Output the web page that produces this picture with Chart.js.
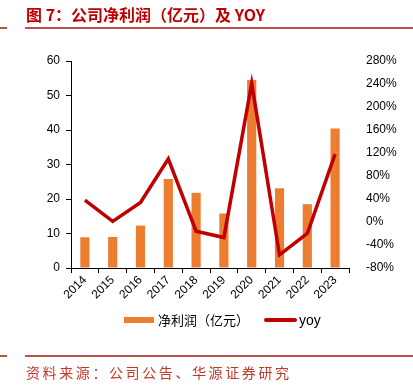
<!DOCTYPE html>
<html><head><meta charset="utf-8">
<script src="https://cdn.jsdelivr.net/npm/chart.js@4/dist/chart.umd.min.js"></script>
<style>
html,body{margin:0;padding:0;background:#fff;width:413px;height:386px;overflow:hidden;position:relative;font-family:"Liberation Sans",Arial,sans-serif;}
#c{position:absolute;left:0;top:0;}
.title{position:absolute;left:26px;top:3px;font:bold 16px "Noto Sans CJK SC",sans-serif;color:#C00000;white-space:nowrap;line-height:22px;}
.rule{position:absolute;height:2px;background:#C0504D;}
.foot{position:absolute;left:26px;top:362px;font:14px "Noto Sans CJK SC",serif;color:#C0392B;letter-spacing:2.6px;white-space:nowrap;line-height:20px;}
.legend{position:absolute;top:311px;font:13px "Noto Sans CJK SC","Liberation Sans",sans-serif;color:#000;white-space:nowrap;line-height:18px;}
.sw{position:absolute;}
</style></head>
<body>
<canvas id="c" width="413" height="386"></canvas>
<div class="title">图 7：公司净利润（亿元）及 YOY</div>
<div class="rule" style="left:0;width:7px;top:27px"></div>
<div class="rule" style="left:25px;width:388px;top:27px"></div>
<div class="rule" style="left:0;width:7px;top:355px"></div>
<div class="rule" style="left:25px;width:388px;top:355px"></div>
<div class="foot">资料来源：公司公告、华源证券研究</div>
<div class="sw" style="left:124px;top:317px;width:30px;height:6px;background:#ED7D31"></div>
<div class="legend" style="left:158px">净利润（亿元）</div>
<div class="sw" style="left:264px;top:318px;width:33px;height:4px;background:#C00000;border-radius:2px"></div>
<div class="legend" style="left:299px;font-family:'Liberation Sans',Arial,sans-serif;font-size:14px">yoy</div>
<script>
const categories = ["2014","2015","2016","2017","2018","2019","2020","2021","2022","2023"];
const netProfit = [8.9, 9.0, 12.3, 25.8, 21.8, 15.8, 54.5, 23.1, 18.5, 40.4];
const yoy = [38, 1, 34, 110, -16, -27, 241, -57, -20, 118];
const leftTicks = {min:0, max:60, step:10};
const rightTicks = {min:-80, max:280, step:40};

new Chart(document.getElementById('c'), {
  data: {
    labels: categories,
    datasets: [
      {type:'line', label:'yoy', data:yoy, yAxisID:'y1', borderColor:'#C00000', backgroundColor:'#C00000', borderWidth:3.5, pointRadius:0, tension:0, order:0},
      {type:'bar', label:'净利润（亿元）', data:netProfit, yAxisID:'y', backgroundColor:'#ED7D31', categoryPercentage:1, barPercentage:0.33, order:1}
    ]
  },
  options: {
    responsive:false, animation:false, devicePixelRatio:1,
    layout:{padding:{top:61,left:0,right:0,bottom:0}},
    plugins:{legend:{display:false}, tooltip:{enabled:false}},
    scales:{
      x:{
        offset:true,
        grid:{offset:true, drawOnChartArea:false, drawTicks:true, tickLength:5, color:'#000'},
        border:{display:true, color:'#000', width:1},
        ticks:{minRotation:45, maxRotation:45, color:'#000', font:{family:'"Liberation Sans", Arial, sans-serif', size:12}, padding:0},
        afterFit(s){ s.height = 118; }
      },
      y:{
        position:'left', min:leftTicks.min, max:leftTicks.max,
        grid:{drawOnChartArea:false, drawTicks:true, tickLength:5, color:'#000'},
        border:{display:true, color:'#000', width:1},
        ticks:{stepSize:leftTicks.step, color:'#000', font:{family:'"Liberation Sans", Arial, sans-serif', size:12}, padding:6},
        afterFit(s){ s.width = 71; }
      },
      y1:{
        position:'right', min:rightTicks.min, max:rightTicks.max,
        grid:{display:false},
        border:{display:false},
        ticks:{stepSize:rightTicks.step, color:'#000', font:{family:'"Liberation Sans", Arial, sans-serif', size:12}, padding:9, callback:v=>v+'%'},
        afterFit(s){ s.width = 64; }
      }
    }
  }
});
</script>
</body></html>
